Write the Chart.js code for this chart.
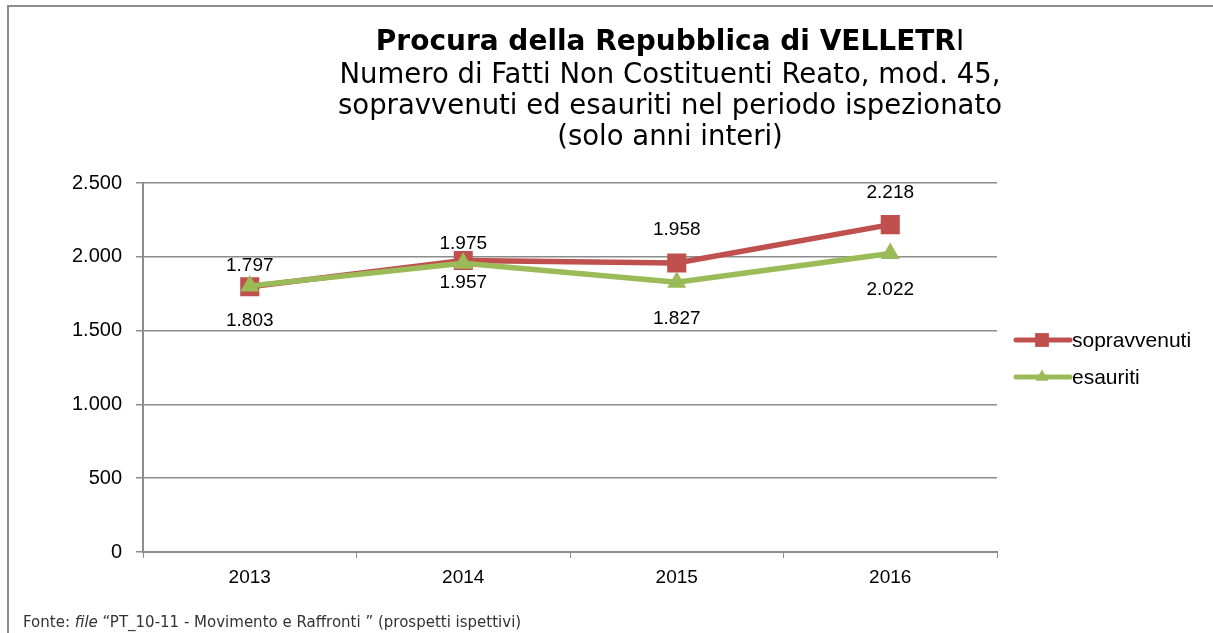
<!DOCTYPE html>
<html>
<head>
<meta charset="utf-8">
<script src="https://cdn.jsdelivr.net/npm/chart.js@4/dist/chart.umd.min.js"></script>
<style>
  body { margin: 0; background: #fff; }
  #wrap { width: 1213px; height: 633px; }
</style>
</head>
<body>
<div id="wrap"><canvas id="myChart" width="1213" height="633"></canvas></div>
<script>
// ---------------- data ----------------
var anni = ['2013', '2014', '2015', '2016'];
var sopravvenuti = [1797, 1975, 1958, 2218];
var esauriti = [1803, 1957, 1827, 2022];
var yTicks = [0, 500, 1000, 1500, 2000, 2500];

var titolo = 'Procura della Repubblica di VELLETR';
var sottotitolo = [
    'Numero di Fatti Non Costituenti Reato, mod. 45,',
    'sopravvenuti ed esauriti nel periodo ispezionato',
    '(solo anni interi)'
];

var rosso = '#C0504D';
var verde = '#9BBB59';
var grigio = '#8c8c8c';

function fmt(n){
    return String(n).replace(/\B(?=(\d{3})+(?!\d))/g, '.');
}

// ---------------- plugins ----------------
var cornice = {
    id: 'cornice',
    beforeDraw: function(chart){
        var c = chart.ctx;
        c.save();
        c.fillStyle = '#fff';
        c.fillRect(0, 0, chart.width, chart.height);
        c.strokeStyle = grigio;
        c.lineWidth = 2;
        c.strokeRect(8, 6, 1230, 700);
        c.restore();
    },
    afterDraw: function(chart){
        var c = chart.ctx;
        c.save();
        c.fillStyle = '#000';
        c.textBaseline = 'middle';
        // title: bold part + plain "I"
        c.font = 'bold 28px "DejaVu Sans"';
        var w1 = c.measureText(titolo).width;
        c.font = '28px "DejaVu Sans"';
        var w2 = c.measureText('I').width;
        var cx = 670;
        var x0 = cx - (w1 + w2) / 2;
        c.textAlign = 'left';
        c.font = 'bold 28px "DejaVu Sans"';
        c.fillText(titolo, x0, 43);
        c.font = '28px "DejaVu Sans"';
        c.fillText('I', x0 + w1, 43);
        c.font = '27.5px "DejaVu Sans"';
        c.textAlign = 'center';
        for (var i = 0; i < sottotitolo.length; i++) {
            c.fillText(sottotitolo[i], cx, 76 + i * 31);
        }

        // footer
        c.textAlign = 'left';
        c.fillStyle = '#333';
        var parts = [['Fonte: ', '15px "DejaVu Sans"'], ['file', 'italic 15px "DejaVu Sans"'],
                     [' \u201CPT_10-11 - Movimento e Raffronti \u201D (prospetti ispettivi)', '15px "DejaVu Sans"']];
        var fx = 23;
        parts.forEach(function(p){
            c.font = p[1];
            c.fillText(p[0], fx, 623);
            fx += c.measureText(p[0]).width;
        });

        // data labels
        c.fillStyle = '#000';
        c.textAlign = 'center';
        c.font = '19px "Liberation Sans"';
        var offs = chart.options.plugins.etichette.offsets;
        chart.data.datasets.forEach(function(ds, di){
            var meta = chart.getDatasetMeta(di);
            meta.data.forEach(function(pt, i){
                c.fillText(fmt(ds.data[i]), pt.x, pt.y + offs[di][i]);
            });
        });

        // legend
        var leg = [[rosso, 'rect', 13, 'sopravvenuti', 340], [verde, 'triangle', 10, 'esauriti', 377]];
        leg.forEach(function(l){
            c.strokeStyle = l[0];
            c.lineWidth = 5;
            c.lineCap = 'round';
            c.beginPath();
            c.moveTo(1016, l[4]);
            c.lineTo(1070, l[4]);
            c.stroke();
            c.fillStyle = l[0];
            Chart.helpers.drawPoint(c, {pointStyle: l[1], radius: l[2] * 0.75, borderWidth: 0}, 1042, l[4]);
            c.fillStyle = '#000';
            c.textAlign = 'left';
            c.font = '21px "Liberation Sans"';
            c.fillText(l[3], 1072, l[4] + 1);
        });
        c.restore();
    }
};

// ---------------- chart ----------------
var ctx = document.getElementById('myChart').getContext('2d');
var myChart = new Chart(ctx, {
    type: 'line',
    data: {
        labels: anni,
        datasets: [
            {
                label: 'sopravvenuti',
                data: sopravvenuti,
                borderColor: rosso,
                backgroundColor: rosso,
                borderWidth: 5.5,
                pointStyle: 'rect',
                pointRadius: 13.5,
                pointBorderWidth: 0,
                tension: 0,
                order: 2
            },
            {
                label: 'esauriti',
                data: esauriti,
                borderColor: verde,
                backgroundColor: verde,
                borderWidth: 5.5,
                pointStyle: 'triangle',
                pointRadius: 11,
                pointBorderWidth: 0,
                tension: 0,
                order: 1
            }
        ]
    },
    options: {
        responsive: false,
        animation: false,
        layout: { padding: { top: 183, right: 216, left: 0, bottom: 0 } },
        scales: {
            x: {
                offset: true,
                afterFit: function(s){ s.height = 81; },
                grid: { drawOnChartArea: false, color: grigio, tickLength: 6, offset: true },
                border: { color: grigio, width: 2 },
                ticks: { color: '#000', font: { family: 'Liberation Sans', size: 19 }, padding: 8 }
            },
            y: {
                min: 0,
                max: 2500,
                afterFit: function(s){ s.width = 143; },
                afterBuildTicks: function(s){ s.ticks = yTicks.map(function(v){ return {value: v}; }); },
                grid: { color: grigio, lineWidth: 1.5, tickLength: 7 },
                border: { color: grigio, width: 2 },
                ticks: {
                    color: '#000',
                    font: { family: 'Liberation Sans', size: 20 },
                    padding: 14,
                    callback: function(v){ return fmt(v); }
                }
            }
        },
        plugins: {
            legend: { display: false },
            tooltip: { enabled: false },
            etichette: { offsets: [[-21, -17, -33, -32], [35, 20, 36, 36]] }
        }
    },
    plugins: [cornice]
});
</script>
</body>
</html>
